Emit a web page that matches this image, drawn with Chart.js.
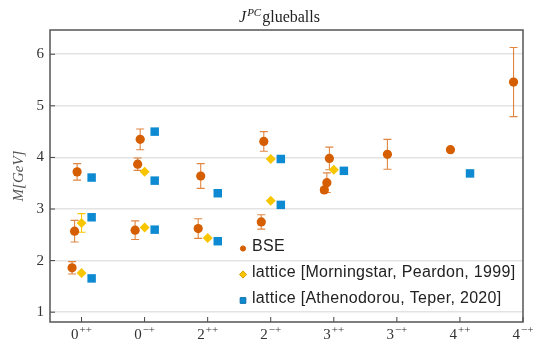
<!DOCTYPE html>
<html>
<head>
<meta charset="utf-8">
<script src="https://cdn.jsdelivr.net/npm/chart.js@4.4.1/dist/chart.umd.min.js"></script>
<style>
  html, body { margin: 0; padding: 0; background: #fff; }
</style>
</head>
<body>
<canvas id="glueballChart" width="536" height="342"></canvas>
<script>
// J^PC states on the x axis, and y ticks
const states = ['0++', '0-+', '2++', '2-+', '3++', '3-+', '4++', '4-+'];
const yTicks = [1, 2, 3, 4, 5, 6];

// BSE: state index, mass [GeV], error
const bseState = [0, 0, 0, 1, 1, 1, 2, 2, 3, 3, 4, 4, 4, 5, 6, 7];
const bseMass  = [1.86, 2.57, 3.72, 2.59, 3.87, 4.35, 2.62, 3.64, 2.75, 4.31, 3.37, 3.51, 3.98, 4.06, 4.15, 5.46];
const bseErr   = [0.12, 0.21, 0.16, 0.18, 0.12, 0.20, 0.19, 0.24, 0.14, 0.19, 0.05, 0.19, 0.22, 0.29, 0, 0.67];

// lattice [Morningstar, Peardon, 1999]
const mpState = [0, 0, 1, 1, 2, 3, 3, 4];
const mpMass  = [1.76, 2.73, 2.64, 3.72, 2.44, 3.16, 3.97, 3.76];
const mpErr   = [0, 0.18, 0, 0, 0, 0, 0, 0];

// lattice [Athenodorou, Teper, 2020]
const atState = [0, 0, 0, 1, 1, 1, 2, 2, 3, 3, 4, 6];
const atMass  = [1.655, 2.84, 3.61, 2.60, 3.55, 4.50, 2.376, 3.306, 3.08, 3.97, 3.74, 3.69];

const BSE_COLOR = '#d55e00';
const MP_COLOR = '#f7c600';
const AT_COLOR = '#0d8ad2';

// BSE levels are shifted a little further right for each excitation
const levelShift = [-0.15, -0.11, -0.07];

function bsePoints() {
    const seen = {};
    return bseState.map(function (s, i) {
        const lvl = seen[s] || 0;
        seen[s] = lvl + 1;
        return { x: s + levelShift[Math.min(lvl, 2)], y: bseMass[i] };
    });
}

const serif = "'Liberation Serif', 'DejaVu Serif', serif";

const glueballPlugin = {
    id: 'glueball',
    beforeDatasetsDraw(chart) {
        const ctx = chart.ctx;
        const ys = chart.scales.y;
        chart.data.datasets.forEach(function (ds, d) {
            if (!ds.errors) return;
            const meta = chart.getDatasetMeta(d);
            ctx.save();
            ctx.strokeStyle = ds.errColor;
            ctx.lineWidth = 1.1;
            meta.data.forEach(function (pt, i) {
                const e = ds.errors[i];
                if (!e) return;
                const v = ds.data[i].y;
                const top = ys.getPixelForValue(v + e);
                const bot = ys.getPixelForValue(v - e);
                ctx.beginPath();
                ctx.moveTo(pt.x, top); ctx.lineTo(pt.x, bot);
                ctx.moveTo(pt.x - 4, top); ctx.lineTo(pt.x + 4, top);
                ctx.moveTo(pt.x - 4, bot); ctx.lineTo(pt.x + 4, bot);
                ctx.stroke();
            });
            ctx.restore();
        });
    },
    afterDraw(chart) {
        const ctx = chart.ctx;
        const a = chart.chartArea;
        const xs = chart.scales.x;
        const ys = chart.scales.y;
        ctx.save();

        // inward tick marks
        ctx.strokeStyle = '#444';
        ctx.lineWidth = 1;
        yTicks.forEach(function (v) {
            const y = ys.getPixelForValue(v);
            ctx.beginPath(); ctx.moveTo(a.left, y); ctx.lineTo(a.left + 5, y); ctx.stroke();
        });
        states.forEach(function (s, i) {
            const x = xs.getPixelForValue(i);
            ctx.beginPath(); ctx.moveTo(x, a.bottom); ctx.lineTo(x, a.bottom - 5); ctx.stroke();
        });

        // frame
        ctx.strokeStyle = '#555';
        ctx.lineWidth = 1.5;
        ctx.strokeRect(a.left, a.top, a.right - a.left, a.bottom - a.top);

        // x tick labels with superscripts
        ctx.fillStyle = '#333';
        ctx.textBaseline = 'alphabetic';
        ctx.textAlign = 'left';
        states.forEach(function (s, i) {
            const base = s.charAt(0);
            const sup = s.slice(1).replace(/-/g, '\u2212');
            ctx.font = '15px ' + serif;
            const wb = ctx.measureText(base).width;
            ctx.font = '11px ' + serif;
            const ws = ctx.measureText(sup).width;
            const x0 = xs.getPixelForValue(i) - (wb + ws + 1) / 2;
            ctx.font = '15px ' + serif;
            ctx.fillText(base, x0, 339);
            ctx.font = '11px ' + serif;
            ctx.fillText(sup, x0 + wb + 1, 333);
        });

        // title J^PC glueballs
        ctx.font = 'italic 16px ' + serif;
        const wJ = ctx.measureText('J').width;
        ctx.font = 'italic 11px ' + serif;
        const wPC = ctx.measureText('PC').width;
        ctx.font = '16px ' + serif;
        const wG = ctx.measureText('glueballs').width;
        let tx = (a.left + a.right) / 2 - 7 - (wJ + wPC + wG + 2) / 2;
        ctx.fillStyle = '#222';
        ctx.font = 'italic 16px ' + serif;
        ctx.fillText('J', tx, 22);
        ctx.font = 'italic 11px ' + serif;
        ctx.fillText('PC', tx + wJ + 1, 16);
        ctx.font = '16px ' + serif;
        ctx.fillText('glueballs', tx + wJ + wPC + 2, 22);

        // legend inside the plot, lower right
        const lx = a.left + 193;
        const rows = [a.top + 217, a.top + 243, a.top + 269];
        const marks = [
            { pointStyle: 'circle', radius: 2.6, fill: BSE_COLOR, stroke: BSE_COLOR },
            { pointStyle: 'rectRot', radius: 3.6, fill: MP_COLOR, stroke: '#d99a00' },
            { pointStyle: 'rect', radius: 4, fill: AT_COLOR, stroke: '#0b6fae' }
        ];
        ctx.font = "16px 'Liberation Sans', Arial, sans-serif";
        ctx.letterSpacing = '0.3px';
        ctx.textBaseline = 'middle';
        chart.data.datasets.forEach(function (ds, d) {
            const m = marks[d];
            ctx.fillStyle = m.fill;
            ctx.strokeStyle = m.stroke;
            ctx.lineWidth = 1;
            Chart.helpers.drawPoint(ctx, { pointStyle: m.pointStyle, radius: m.radius, rotation: 0, borderWidth: 1 }, lx, rows[d] + 1.5);
            ctx.fillStyle = '#222';
            ctx.fillText(ds.label, lx + 9, rows[d]);
        });
        ctx.restore();
    }
};

const ctx = document.getElementById('glueballChart').getContext('2d');
new Chart(ctx, {
    type: 'scatter',
    data: {
        datasets: [{
            label: 'BSE',
            data: bsePoints(),
            errors: bseErr,
            errColor: 'rgba(213, 94, 0, 0.75)',
            pointStyle: 'circle',
            pointRadius: 4.6,
            backgroundColor: BSE_COLOR,
            borderColor: BSE_COLOR,
            borderWidth: 0
        }, {
            label: 'lattice [Morningstar, Peardon, 1999]',
            data: mpState.map(function (s, i) { return { x: s, y: mpMass[i] }; }),
            errors: mpErr,
            errColor: MP_COLOR,
            pointStyle: 'rectRot',
            pointRadius: 5,
            backgroundColor: MP_COLOR,
            borderColor: MP_COLOR,
            borderWidth: 0
        }, {
            label: 'lattice [Athenodorou, Teper, 2020]',
            data: atState.map(function (s, i) { return { x: s + 0.16, y: atMass[i] }; }),
            pointStyle: 'rect',
            pointRadius: 6,
            backgroundColor: AT_COLOR,
            borderColor: AT_COLOR,
            borderWidth: 0
        }]
    },
    options: {
        responsive: false,
        animation: false,
        events: [],
        layout: { padding: { top: 30, right: 13, left: 0, bottom: 0 } },
        scales: {
            x: {
                type: 'linear',
                min: -0.5,
                max: 7,
                grid: { display: false },
                border: { display: false },
                ticks: { display: false },
                afterBuildTicks: function (scale) {
                    scale.ticks = states.map(function (s, i) { return { value: i }; });
                },
                afterFit: function (scale) { scale.height = 20; }
            },
            y: {
                min: 0.81,
                max: 6.47,
                afterBuildTicks: function (scale) {
                    scale.ticks = yTicks.map(function (v) { return { value: v }; });
                },
                grid: { color: '#e3e3e3', lineWidth: 1.5, drawTicks: false },
                border: { display: false },
                ticks: { font: { family: serif, size: 15 }, color: '#333', padding: 6 },
                title: {
                    display: true,
                    text: 'M[GeV]',
                    font: { family: serif, size: 15, style: 'italic' },
                    color: '#555',
                    padding: { top: 10, bottom: 0 }
                },
                afterFit: function (scale) { scale.width = 50; }
            }
        },
        plugins: {
            legend: { display: false },
            tooltip: { enabled: false }
        }
    },
    plugins: [glueballPlugin]
});
</script>
</body>
</html>
